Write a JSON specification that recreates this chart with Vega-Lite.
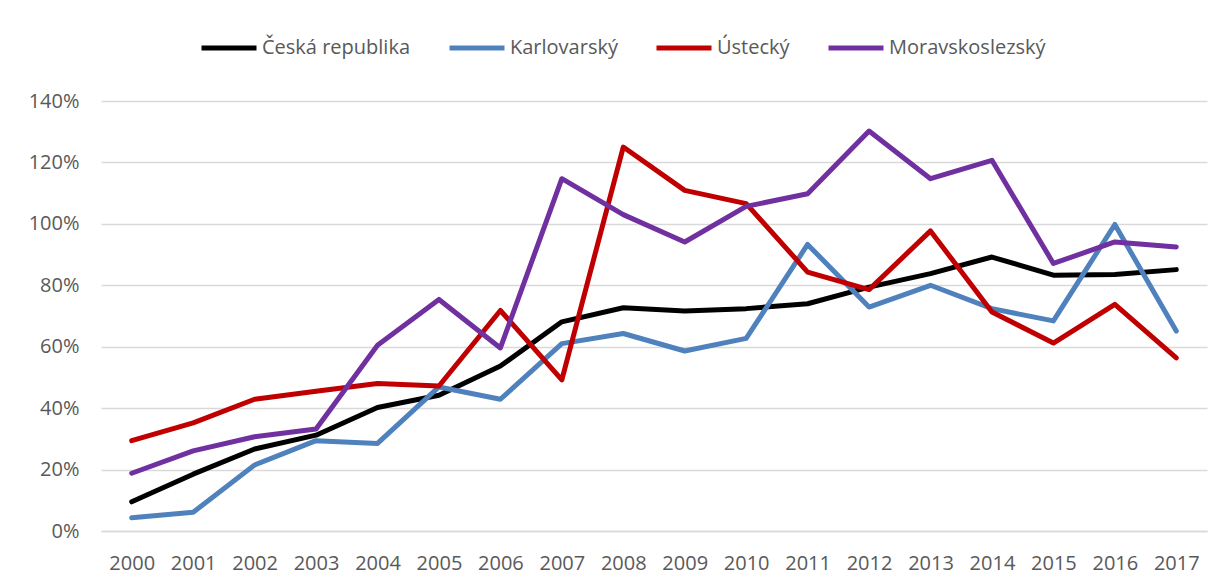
{
  "$schema": "https://vega.github.io/schema/vega-lite/v6.json",
  "width": 1106,
  "height": 430,
  "autosize": {"type": "none"},
  "padding": {"left": 101, "top": 101, "right": 18, "bottom": 55},
  "background": "white",
  "config": {
    "font": "Open Sans",
    "view": {"stroke": null},
    "axis": {"labelFont": "Open Sans", "labelFontSize": 20, "labelColor": "#595959", "ticks": false, "title": null}
  },
  "data": {
    "values": [
      {"year": "2000", "region": "Česká republika", "value": 0.095},
      {"year": "2001", "region": "Česká republika", "value": 0.185},
      {"year": "2002", "region": "Česká republika", "value": 0.267},
      {"year": "2003", "region": "Česká republika", "value": 0.312},
      {"year": "2004", "region": "Česká republika", "value": 0.402},
      {"year": "2005", "region": "Česká republika", "value": 0.442},
      {"year": "2006", "region": "Česká republika", "value": 0.537},
      {"year": "2007", "region": "Česká republika", "value": 0.681},
      {"year": "2008", "region": "Česká republika", "value": 0.727},
      {"year": "2009", "region": "Česká republika", "value": 0.716},
      {"year": "2010", "region": "Česká republika", "value": 0.724},
      {"year": "2011", "region": "Česká republika", "value": 0.740},
      {"year": "2012", "region": "Česká republika", "value": 0.794},
      {"year": "2013", "region": "Česká republika", "value": 0.838},
      {"year": "2014", "region": "Česká republika", "value": 0.892},
      {"year": "2015", "region": "Česká republika", "value": 0.833},
      {"year": "2016", "region": "Česká republika", "value": 0.835},
      {"year": "2017", "region": "Česká republika", "value": 0.851},
      {"year": "2000", "region": "Karlovarský", "value": 0.043},
      {"year": "2001", "region": "Karlovarský", "value": 0.061},
      {"year": "2002", "region": "Karlovarský", "value": 0.215},
      {"year": "2003", "region": "Karlovarský", "value": 0.294},
      {"year": "2004", "region": "Karlovarský", "value": 0.285},
      {"year": "2005", "region": "Karlovarský", "value": 0.469},
      {"year": "2006", "region": "Karlovarský", "value": 0.429},
      {"year": "2007", "region": "Karlovarský", "value": 0.610},
      {"year": "2008", "region": "Karlovarský", "value": 0.643},
      {"year": "2009", "region": "Karlovarský", "value": 0.586},
      {"year": "2010", "region": "Karlovarský", "value": 0.627},
      {"year": "2011", "region": "Karlovarský", "value": 0.933},
      {"year": "2012", "region": "Karlovarský", "value": 0.729},
      {"year": "2013", "region": "Karlovarský", "value": 0.800},
      {"year": "2014", "region": "Karlovarský", "value": 0.724},
      {"year": "2015", "region": "Karlovarský", "value": 0.684},
      {"year": "2016", "region": "Karlovarský", "value": 0.998},
      {"year": "2017", "region": "Karlovarský", "value": 0.651},
      {"year": "2000", "region": "Ústecký", "value": 0.294},
      {"year": "2001", "region": "Ústecký", "value": 0.352},
      {"year": "2002", "region": "Ústecký", "value": 0.429},
      {"year": "2003", "region": "Ústecký", "value": 0.455},
      {"year": "2004", "region": "Ústecký", "value": 0.480},
      {"year": "2005", "region": "Ústecký", "value": 0.472},
      {"year": "2006", "region": "Ústecký", "value": 0.718},
      {"year": "2007", "region": "Ústecký", "value": 0.492},
      {"year": "2008", "region": "Ústecký", "value": 1.250},
      {"year": "2009", "region": "Ústecký", "value": 1.109},
      {"year": "2010", "region": "Ústecký", "value": 1.066},
      {"year": "2011", "region": "Ústecký", "value": 0.843},
      {"year": "2012", "region": "Ústecký", "value": 0.786},
      {"year": "2013", "region": "Ústecký", "value": 0.977},
      {"year": "2014", "region": "Ústecký", "value": 0.713},
      {"year": "2015", "region": "Ústecký", "value": 0.612},
      {"year": "2016", "region": "Ústecký", "value": 0.738},
      {"year": "2017", "region": "Ústecký", "value": 0.564},
      {"year": "2000", "region": "Moravskoslezský", "value": 0.188},
      {"year": "2001", "region": "Moravskoslezský", "value": 0.261},
      {"year": "2002", "region": "Moravskoslezský", "value": 0.307},
      {"year": "2003", "region": "Moravskoslezský", "value": 0.332},
      {"year": "2004", "region": "Moravskoslezský", "value": 0.605},
      {"year": "2005", "region": "Moravskoslezský", "value": 0.754},
      {"year": "2006", "region": "Moravskoslezský", "value": 0.596},
      {"year": "2007", "region": "Moravskoslezský", "value": 1.147},
      {"year": "2008", "region": "Moravskoslezský", "value": 1.030},
      {"year": "2009", "region": "Moravskoslezský", "value": 0.941},
      {"year": "2010", "region": "Moravskoslezský", "value": 1.057},
      {"year": "2011", "region": "Moravskoslezský", "value": 1.098},
      {"year": "2012", "region": "Moravskoslezský", "value": 1.302},
      {"year": "2013", "region": "Moravskoslezský", "value": 1.147},
      {"year": "2014", "region": "Moravskoslezský", "value": 1.207},
      {"year": "2015", "region": "Moravskoslezský", "value": 0.871},
      {"year": "2016", "region": "Moravskoslezský", "value": 0.941},
      {"year": "2017", "region": "Moravskoslezský", "value": 0.925}
    ]
  },
  "mark": {"type": "line", "strokeWidth": 5, "strokeCap": "round", "strokeJoin": "round"},
  "encoding": {
    "x": {
      "field": "year",
      "type": "ordinal",
      "scale": {"type": "point", "padding": 0.5},
      "axis": {"labelAngle": 0, "labelPadding": 22, "domain": true, "domainColor": "#D9D9D9", "domainWidth": 1.5, "grid": false}
    },
    "y": {
      "field": "value",
      "type": "quantitative",
      "scale": {"domain": [0, 1.4], "nice": false},
      "axis": {"values": [0, 0.2, 0.4, 0.6, 0.8, 1.0, 1.2, 1.4], "format": ".0%", "domain": false, "grid": true, "gridColor": "#D9D9D9", "gridWidth": 1.5, "labelPadding": 22}
    },
    "color": {
      "field": "region",
      "type": "nominal",
      "sort": ["Česká republika", "Karlovarský", "Ústecký", "Moravskoslezský"],
      "scale": {
        "domain": ["Česká republika", "Karlovarský", "Ústecký", "Moravskoslezský"],
        "range": ["#000000", "#4F81BD", "#C00000", "#7030A0"]
      },
      "legend": {
        "title": null,
        "orient": "none",
        "direction": "horizontal",
        "legendX": 98,
        "legendY": -83,
        "symbolType": "stroke",
        "symbolSize": 3025,
        "symbolStrokeWidth": 5,
        "labelFont": "Open Sans",
        "labelFontSize": 20,
        "labelColor": "#595959",
        "labelOffset": 3,
        "columnPadding": 28
      }
    }
  }
}
